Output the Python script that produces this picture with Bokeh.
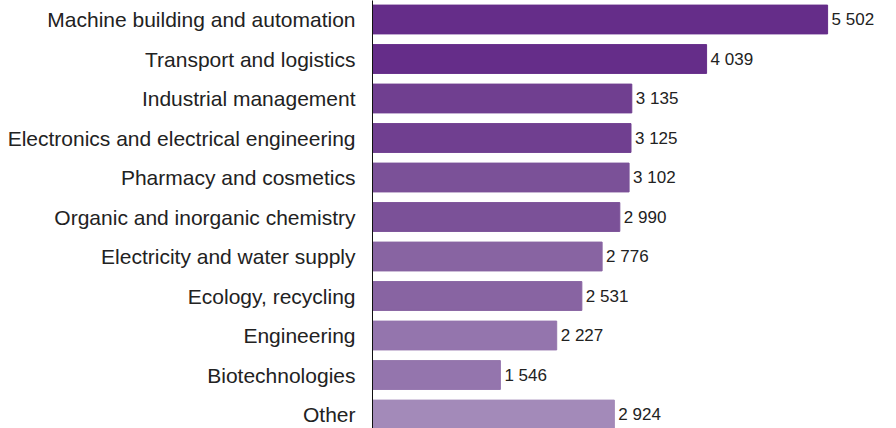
from bokeh.plotting import figure
from bokeh.models import Range1d, FixedTicker, ColumnDataSource
from bokeh.core.properties import value
from bokeh.embed import file_html
from bokeh.resources import INLINE

categories = [
    "Machine building and automation",
    "Transport and logistics",
    "Industrial management",
    "Electronics and electrical engineering",
    "Pharmacy and cosmetics",
    "Organic and inorganic chemistry",
    "Electricity and water supply",
    "Ecology, recycling",
    "Engineering",
    "Biotechnologies",
    "Other",
]
values = [5502, 4039, 3135, 3125, 3102, 2990, 2776, 2531, 2227, 1546, 2924]
value_labels = ["5 502", "4 039", "3 135", "3 125", "3 102", "2 990", "2 776", "2 531", "2 227", "1 546", "2 924"]
colors = ["#652d89", "#652d89", "#703f90", "#703f90", "#7b5198", "#7b5198",
          "#8864a2", "#8864a2", "#9475ad", "#9475ad", "#a38ab9"]

idx = list(range(len(categories)))
src = ColumnDataSource(dict(y=idx, v=values, lab=value_labels, c=colors))

p = figure(width=896, height=428, output_backend="svg", toolbar_location=None,
           x_range=Range1d(0, 6335), y_range=Range1d(10.354, -0.481),
           min_border_left=372, min_border_right=0, min_border_top=0, min_border_bottom=0)
p.outline_line_color = None
p.background_fill_color = "white"
p.border_fill_color = "white"
p.grid.visible = False
p.xaxis.visible = False

p.hbar(y="y", right="v", left=0, height=0.73, color="c", source=src)
p.text(x="v", y="y", text="lab", source=src, x_offset=4, text_baseline="middle",
       text_align="left", text_font=value("Liberation Sans"), text_font_size="17px",
       text_color="#222222")

ya = p.yaxis[0]
ya.ticker = FixedTicker(ticks=idx)
ya.major_label_overrides = {i: c for i, c in zip(idx, categories)}
ya.major_label_text_font = "Liberation Sans"
ya.major_label_text_font_size = "21px"
ya.major_label_text_color = "#222222"
ya.major_label_standoff = 11
ya.major_tick_line_color = None
ya.minor_tick_line_color = None
ya.axis_line_color = "#111111"
ya.axis_line_width = 1

open("out.html", "w").write(file_html(p, INLINE))
